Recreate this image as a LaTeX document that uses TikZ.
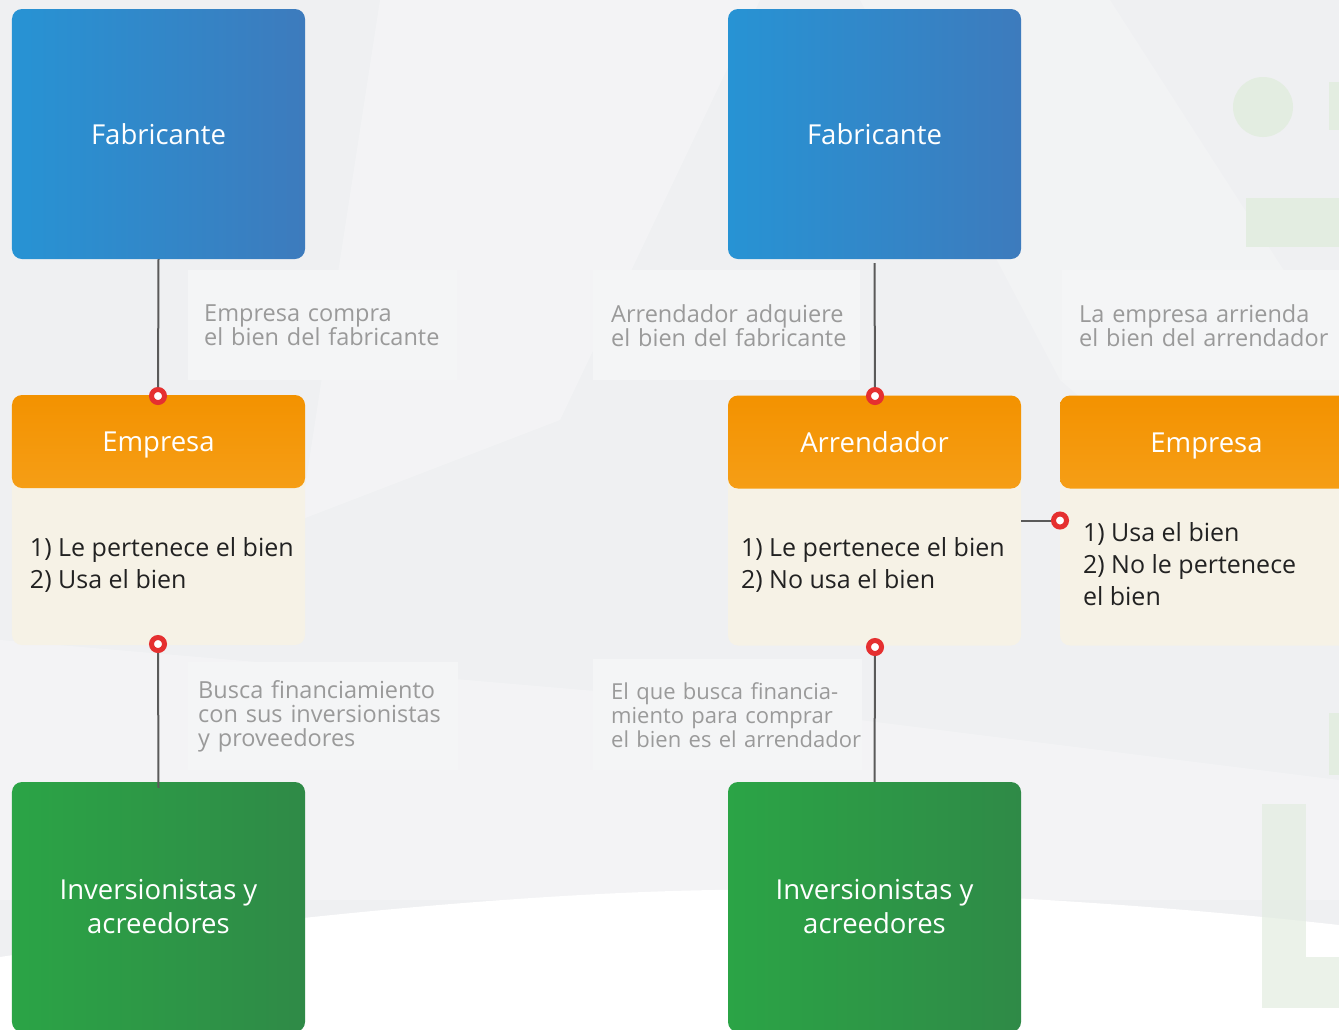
\documentclass[tikz,border=0pt]{standalone}
\usepackage{fontspec}
\setmainfont{Open Sans}
\usetikzlibrary{calc}

\definecolor{bgbase}{HTML}{EFF0F2}
\definecolor{bluel}{HTML}{2793D4}
\definecolor{bluer}{HTML}{3D7BBD}
\definecolor{orgtop}{HTML}{F39200}
\definecolor{orgbot}{HTML}{FAB23A}
\definecolor{cream}{HTML}{F6F2E6}
\definecolor{greenl}{HTML}{2BA446}
\definecolor{greenr}{HTML}{2F8A47}
\definecolor{dotred}{HTML}{E53030}
\definecolor{linegray}{HTML}{5A5A5A}
\definecolor{lblfill}{HTML}{F4F5F6}
\definecolor{lbltext}{HTML}{9A9A9A}
\definecolor{bodytext}{HTML}{222222}
\definecolor{decogreen}{HTML}{E3EDE1}

% one unbreakable line of an annotation
\newcommand{\oneline}[1]{\mbox{#1}}

\tikzset{
  card/.style={rectangle, rounded corners=10bp, minimum width=293bp,
    minimum height=250bp, inner sep=0pt},
  bluecard/.style={card, left color=bluel, right color=bluer,
    text=white, font=\fontsize{27.5bp}{34bp}\selectfont, align=center},
  greencard/.style={card, left color=greenl, right color=greenr,
    text=white, font=\fontsize{27.5bp}{34bp}\selectfont, align=center},
  splitcard/.style={card, fill=cream,
    path picture={\shade[top color=orgtop, bottom color=orgbot]
      ([yshift=-93bp]path picture bounding box.north west) rectangle
      (path picture bounding box.north east);}},
  headtext/.style={anchor=base, text=white, inner sep=0pt,
    font=\fontsize{27.5bp}{34bp}\selectfont},
  bodytxt/.style={anchor=west, align=left, text=bodytext,
    font=\fontsize{25bp}{32bp}\selectfont, inner sep=0pt},
  lbl/.style={rectangle, fill=lblfill, anchor=north west, align=left,
    text=lbltext, font=\fontsize{23.5bp}{24bp}\selectfont,
    inner ysep=0pt},
  joint/.style={circle, draw=dotred, line width=5bp, fill=white,
    minimum size=13bp, inner sep=0pt},
  conn/.style={draw=linegray, line width=2bp}
}

\begin{document}
\begin{tikzpicture}[x=1bp, y=-1bp]
  \useasboundingbox (0,0) rectangle (1339,1029);
  \begin{scope}
    \clip (0,0) rectangle (1339,1029);
    % soft background
    \fill[bgbase] (0,0) rectangle (1339,1029);
    \fill[white, opacity=0.25] (380,0) -- (760,0) -- (560,420) -- (300,520) -- cycle;
    \fill[white, opacity=0.2] (860,0) -- (1110,0) -- (1290,280) -- (1339,330) -- (1339,620) -- (1060,380) -- cycle;
    \fill[white, opacity=0.25] (0,640) -- (700,700) -- (1339,780) -- (1339,900) -- (0,900) -- cycle;
    \fill[white] (0,957) .. controls (300,912) and (600,886) .. (800,890)
      .. controls (1050,895) and (1250,915) .. (1339,925) -- (1339,1029) -- (0,1029) -- cycle;
    % faint green ornaments at the right edge
    \fill[decogreen] (1263,107) circle (30);
    \fill[decogreen] (1246,198) rectangle (1339,247);
    \fill[decogreen] (1329,82) rectangle (1339,130);
    \fill[decogreen] (1329,713) rectangle (1339,775);
    \fill[decogreen, opacity=0.7] (1262,804) rectangle (1306,1008);
    \fill[decogreen, opacity=0.7] (1306,957) rectangle (1339,1008);
  \end{scope}

  % annotation panels
  \node[lbl, inner xsep=16bp, text width=237bp, minimum height=110bp] (lab1) at (188,270)
    {\oneline{Empresa compra}\\\oneline{el bien del fabricante}};
  \node[lbl, inner xsep=10bp, text width=250bp, minimum height=108bp] (lab2) at (188,662)
    {\oneline{Busca financiamiento}\\\oneline{con sus inversionistas}\\\oneline{y proveedores}};
  \node[lbl, inner xsep=18bp, text width=231bp, minimum height=110bp] (lab3) at (593,270)
    {\oneline{Arrendador adquiere}\\\oneline{el bien del fabricante}};
  \node[lbl, inner xsep=18bp, text width=233bp, minimum height=111bp,
        font=\fontsize{22bp}{24bp}\selectfont] (lab4) at (593,659)
    {\oneline{El que busca financia-}\\\oneline{miento para comprar}\\\oneline{el bien es el arrendador}};
  \node[lbl, inner xsep=17bp, text width=260bp, minimum height=110bp] (lab5) at (1062,270)
    {\oneline{La empresa arrienda}\\\oneline{el bien del arrendador}};

  % left chain: purchase
  \node[bluecard] (fab1) at (158.5,134) {Fabricante};
  \node[splitcard] (emp1) at (158.5,520) {};
  \node[headtext] (emp1h) at ([yshift=-57bp]emp1.north) {Empresa};
  \node[bodytxt] (emp1b) at ([xshift=18bp, yshift=-45bp]emp1.west)
    {1) Le pertenece el bien\\2) Usa el bien};
  \node[greencard] (inv1) at (158.5,907) {Inversionistas y\\acreedores};

  % right chain: lease
  \node[bluecard] (fab2) at (874.5,134) {Fabricante};
  \node[splitcard] (arr) at (874.5,520.5) {};
  \node[headtext] (arrh) at ([yshift=-57bp]arr.north) {Arrendador};
  \node[bodytxt] (arrb) at ([xshift=13bp, yshift=-44bp]arr.west)
    {1) Le pertenece el bien\\2) No usa el bien};
  \node[greencard] (inv2) at (874.5,907) {Inversionistas y\\acreedores};

  \node[splitcard] (emp2) at (1206.5,520.5) {};
  \node[headtext] (emp2h) at ([yshift=-57bp]emp2.north) {Empresa};
  \node[bodytxt] (emp2b) at ([xshift=23bp, yshift=-44bp]emp2.west)
    {1) Usa el bien\\2) No le pertenece\\el bien};

  % joints
  \node[joint] (j1) at (158,396) {};
  \node[joint] (j2) at (158,644) {};
  \node[joint] (j3) at (875,396) {};
  \node[joint] (j4) at (875,647) {};
  \node[joint] (j5) at (1060,520.5) {};

  % connectors
  \draw[conn] (fab1.south) -- (j1);
  \draw[conn] (j2) -- ([yshift=-6bp]inv1.north);
  \draw[conn] ([yshift=-4bp]fab2.south) -- (j3);
  \draw[conn] (j4) -- (inv2.north);
  \draw[conn] (arr.east) -- (j5);
\end{tikzpicture}
\end{document}
